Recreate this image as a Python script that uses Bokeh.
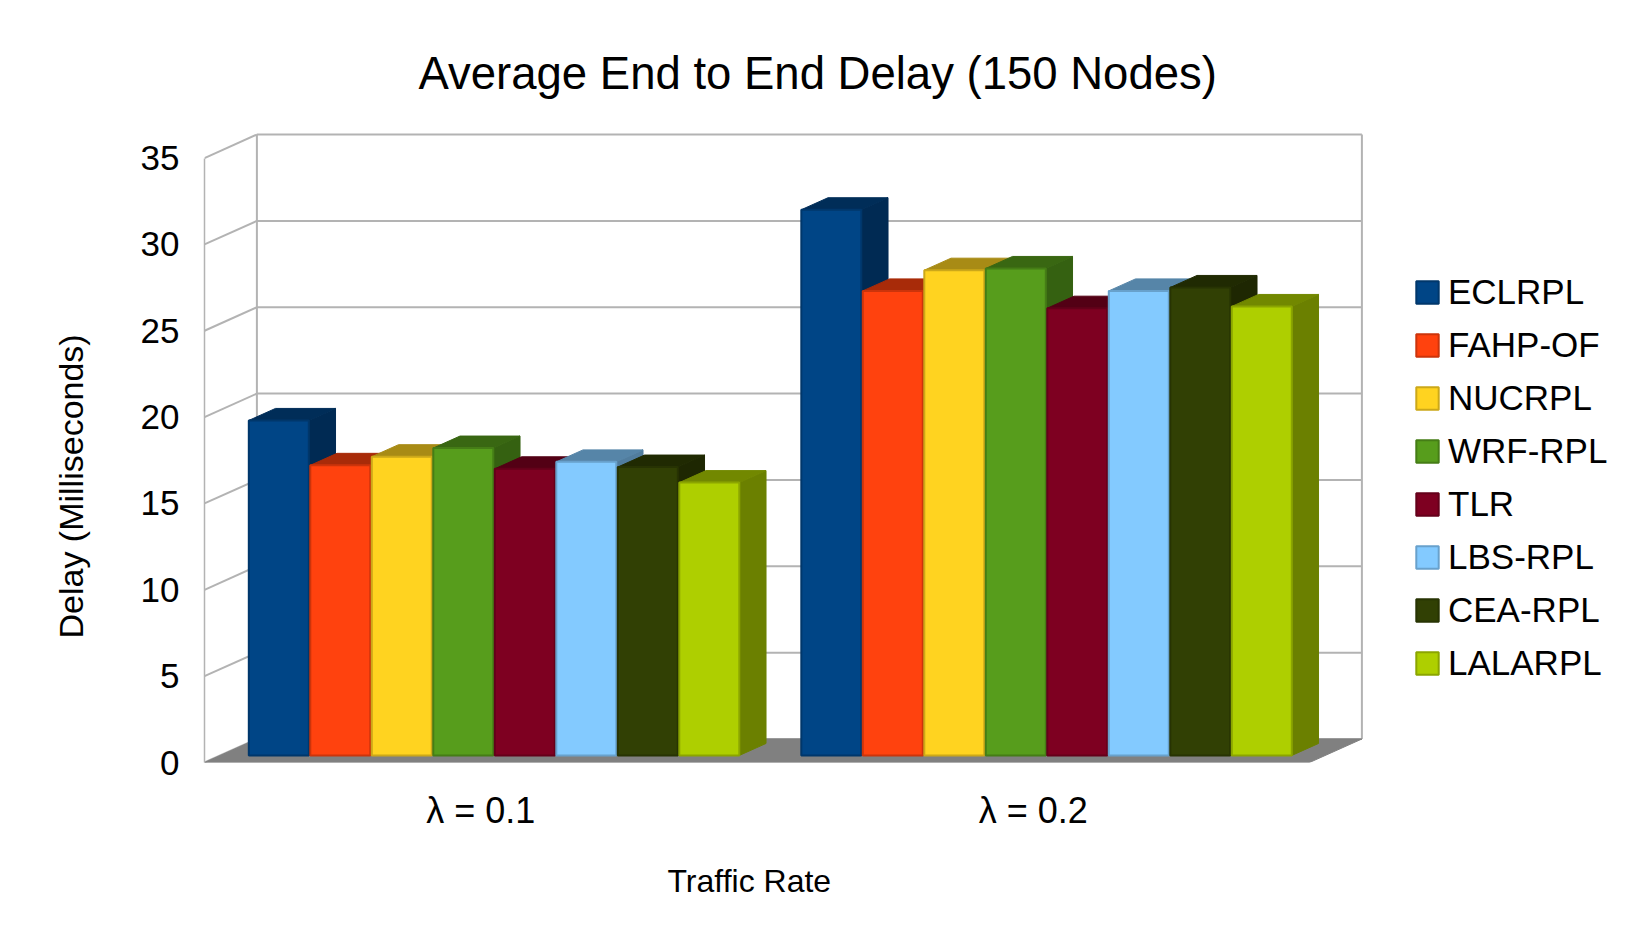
from bokeh.plotting import figure
from bokeh.models import (Range1d, FixedTicker, Legend, LegendItem,
                          Title, ColumnDataSource)
from bokeh.embed import file_html
from bokeh.resources import INLINE

# ---------------- data ----------------
series = ["ECLRPL", "FAHP-OF", "NUCRPL", "WRF-RPL", "TLR", "LBS-RPL", "CEA-RPL", "LALARPL"]
categories = ["λ = 0.1", "λ = 0.2"]
delay_l01 = [19.4, 16.8, 17.3, 17.8, 16.6, 17.0, 16.7, 15.8]
delay_l02 = [31.6, 26.9, 28.1, 28.2, 25.9, 26.9, 27.1, 26.0]
y_ticks = [0, 5, 10, 15, 20, 25, 30, 35]
colors = ["#004586", "#ff420e", "#ffd320", "#579d1c", "#7e0021", "#83caff", "#314004", "#aecf00"]

values = [delay_l01, delay_l02]

# ---------------- geometry constants ----------------
FONT = "Liberation Sans"
W, H = 1620, 931
LEFT, TOP, BOTTOM = 204, 120, 169
PXX = 552.5          # px per category unit
PXY = 17.27          # px per value unit
DX = 52.4 / PXX      # depth offset (x) of the back wall in data units
DY = 23.5 / PXY      # depth offset (y) of the back wall in data units
D0, D1 = 0.30, 0.81  # bar depth extent
PITCH = 61.5 / PXX   # bar pitch inside a cluster
BW = 60.0 / PXX      # bar width
C0 = (44.3 - D0 * 52.4) / PXX  # cluster offset inside category
NCAT = len(categories)
YMAX = y_ticks[-1]

x_end = (W - LEFT) / PXX
y_end = (H - TOP - BOTTOM) / PXY


def P(x, v, d):
    return x + d * DX, v + d * DY


def shade(hexcol, f):
    h = hexcol.lstrip("#")
    r, g, b = (int(h[i:i + 2], 16) for i in (0, 2, 4))
    return "#%02x%02x%02x" % (int(r * f), int(g * f), int(b * f))


p = figure(width=W, height=H, output_backend="svg", toolbar_location=None,
           x_range=Range1d(0, x_end), y_range=Range1d(0, y_end),
           min_border_left=LEFT, min_border_right=0,
           min_border_top=TOP, min_border_bottom=BOTTOM,
           background_fill_color="white", border_fill_color="white")
p.outline_line_color = None
p.grid.visible = False

p.title = Title(text="Average End to End Delay (150 Nodes)", align="left",
                offset=214, standoff=44, text_font=FONT, text_font_size="45.5px",
                text_font_style="normal", text_color="black")

# ---------------- walls / grid ----------------
grid_col = "#b3b3b3"
back_xs, back_ys = [], []
for v in y_ticks:
    a = P(0, v, 1)
    b = P(NCAT, v, 1)
    back_xs.append([a[0], b[0]])
    back_ys.append([a[1], b[1]])
    a = P(0, v, 0)
    b = P(0, v, 1)
    back_xs.append([a[0], b[0]])
    back_ys.append([a[1], b[1]])
for xc in (0, NCAT):
    a = P(xc, 0, 1)
    b = P(xc, YMAX, 1)
    back_xs.append([a[0], b[0]])
    back_ys.append([a[1], b[1]])
p.multi_line(back_xs, back_ys, line_color=grid_col, line_width=2)

floor = [P(0, 0, 0), P(NCAT, 0, 0), P(NCAT, 0, 1), P(0, 0, 1)]
p.patch([q[0] for q in floor], [q[1] for q in floor], fill_color="#808080",
        line_color="#808080", line_width=1)

# ---------------- bars ----------------
bar_renderers = []
for i, name in enumerate(series):
    xs, ys, fc, lc, lw = [], [], [], [], []
    col = colors[i]
    for g in range(NCAT):
        v = values[g][i]
        xl = g + C0 + i * PITCH
        xr = xl + BW
        side = [P(xr, 0, D0), P(xr, 0, D1), P(xr, v, D1), P(xr, v, D0)]
        top = [P(xl, v, D0), P(xr, v, D0), P(xr, v, D1), P(xl, v, D1)]
        front = [P(xl, 0, D0), P(xr, 0, D0), P(xr, v, D0), P(xl, v, D0)]
        for face, c, l, w_ in ((side, shade(col, 0.62), shade(col, 0.62), 1),
                               (top, shade(col, 0.66), shade(col, 0.66), 1),
                               (front, col, shade(col, 0.8), 2)):
            xs.append([q[0] for q in face])
            ys.append([q[1] for q in face])
            fc.append(c)
            lc.append(l)
            lw.append(w_)
    src = ColumnDataSource(dict(xs=xs, ys=ys, fc=fc, lc=lc, lw=lw))
    r = p.patches("xs", "ys", source=src, fill_color="fc", line_color="lc", line_width="lw")
    bar_renderers.append(r)

# ---------------- axes ----------------
yax = p.yaxis[0]
yax.ticker = FixedTicker(ticks=y_ticks)
yax.bounds = (0, YMAX)
yax.axis_line_color = grid_col
yax.axis_line_width = 1.5
yax.major_tick_line_color = None
yax.minor_tick_line_color = None
yax.major_tick_out = 0
yax.major_tick_in = 0
yax.major_label_standoff = 25
yax.major_label_text_font = FONT
yax.major_label_text_font_size = "35px"
yax.major_label_text_color = "black"

p.add_layout(Title(text="Delay (Milliseconds)", align="left", offset=124,
                   vertical_align="bottom", standoff=96, text_font=FONT,
                   text_font_size="34px", text_font_style="normal",
                   text_color="black"), "left")

xax = p.xaxis[0]
xax.ticker = FixedTicker(ticks=[g + 0.5 for g in range(NCAT)])
xax.major_label_overrides = {g + 0.5: c for g, c in enumerate(categories)}
xax.axis_line_color = None
xax.major_tick_line_color = None
xax.minor_tick_line_color = None
xax.major_tick_out = 0
xax.major_tick_in = 0
xax.major_label_standoff = 27
xax.major_label_text_font = FONT
xax.major_label_text_font_size = "36px"
xax.major_label_text_color = "black"

p.add_layout(Title(text="Traffic Rate", align="left", offset=463,
                   vertical_align="top", standoff=58, text_font=FONT,
                   text_font_size="32px", text_font_style="normal",
                   text_color="black"), "below")

# ---------------- legend ----------------
items = [LegendItem(label=name, renderers=[bar_renderers[i]], index=2)
         for i, name in enumerate(series)]
legend = Legend(items=items, location=(1209, 78), glyph_width=28, glyph_height=28,
                label_height=42, spacing=11, padding=0, margin=0, label_standoff=7,
                border_line_color=None, background_fill_alpha=0,
                label_text_font=FONT, label_text_font_size="35px",
                label_text_color="black")
p.add_layout(legend)

open("out.html", "w").write(file_html(p, INLINE))
